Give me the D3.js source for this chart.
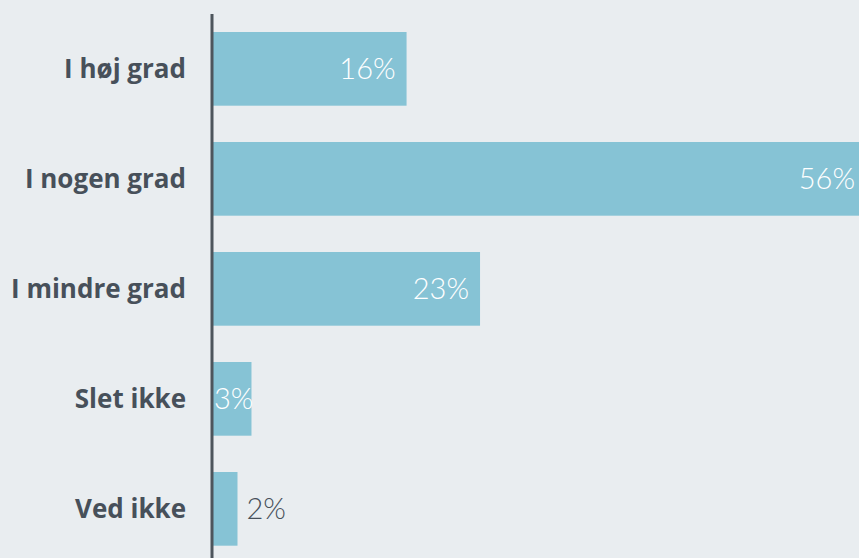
<!DOCTYPE html>
<html><head><meta charset="utf-8">
<script src="https://cdn.jsdelivr.net/npm/d3@7"></script>
<style>
html,body{margin:0;padding:0;background:#e9edf0;}
svg{display:block;}
</style></head>
<body>
<svg id="chart" width="859" height="558"></svg>
<script>
const categories = ["I høj grad","I nogen grad","I mindre grad","Slet ikke","Ved ikke"];
const values = [16.6, 56, 22.9, 3.3, 2.1];
const valueLabels = ["16%","56%","23%","3%","2%"];

const W = 859, H = 558;
const svg = d3.select("#chart");
svg.append("rect").attr("width", W).attr("height", H).attr("fill", "#e9edf0");

const x = d3.scaleLinear().domain([0, 56]).range([213, 866]);
const y = d3.scaleBand().domain(categories).range([32, 545.7]).paddingInner(0.33).paddingOuter(0);

const g = svg.append("g");
g.selectAll("rect.bar").data(categories).join("rect")
  .attr("class","bar")
  .attr("x", x(0))
  .attr("y", d => y(d))
  .attr("width", (d,i) => x(values[i]) - x(0))
  .attr("height", y.bandwidth())
  .attr("fill", "#86c3d5");

// category labels
g.selectAll("text.cat").data(categories).join("text")
  .attr("class","cat")
  .attr("x", 186)
  .attr("y", d => y(d) + y.bandwidth()/2)
  .attr("dy", "0.36em")
  .attr("text-anchor","end")
  .attr("font-family","'Open Sans', Lato, sans-serif")
  .attr("font-weight","700")
  .attr("font-size","26px")
  .attr("fill","#47505a")
  .text(d => d);

// value labels
const vl = g.selectAll("text.val").data(categories).join("text")
  .attr("class","val")
  .attr("y", d => y(d) + y.bandwidth()/2)
  .attr("dy", "0.36em")
  .attr("font-family","Lato, 'Open Sans', sans-serif")
  .attr("font-weight","300")
  .attr("font-size","29px")
  .text((d,i) => valueLabels[i]);

vl.each(function(d,i){
  const t = d3.select(this);
  const w = this.getComputedTextLength();
  const end = x(values[i]);
  const barW = end - x(0);
  if (barW < 30) {
    t.attr("x", end + 9).attr("text-anchor","start").attr("fill","#47505a");
  } else {
    let xe = end - 11;
    if (xe - w < x(0) + 1) xe = x(0) + 1 + w;
    t.attr("x", xe).attr("text-anchor","end").attr("fill","#ffffff");
  }
});

// axis line
svg.append("line")
  .attr("x1", 212).attr("x2", 212)
  .attr("y1", 14).attr("y2", H)
  .attr("stroke", "#4d555c").attr("stroke-width", 3);
</script>
</body></html>
